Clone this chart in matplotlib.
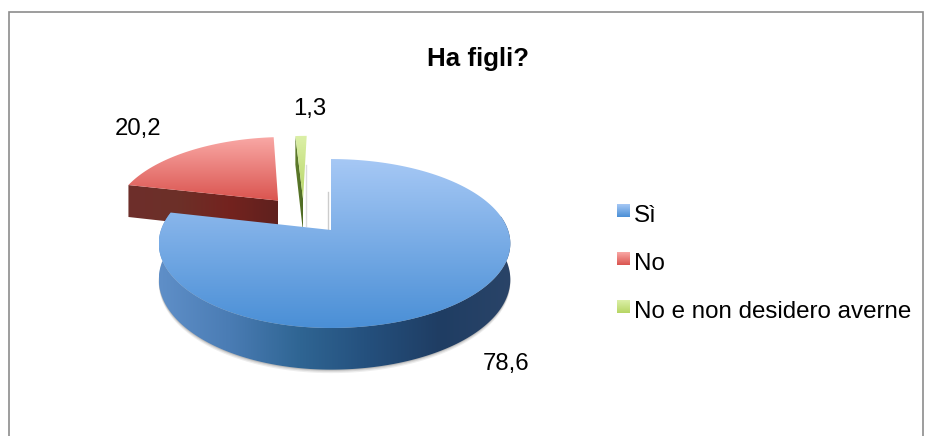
# -*- coding: utf-8 -*-
import numpy as np
import matplotlib
matplotlib.use("Agg")
import matplotlib.pyplot as plt
from matplotlib.patches import Polygon, Rectangle
from matplotlib.colors import LinearSegmentedColormap

plt.rcParams['font.family'] = ['Liberation Sans', 'DejaVu Sans']

title = "Ha figli?"
categories = ["Sì", "No", "No e non desidero averne"]
values = [78.6, 20.2, 1.3]
value_labels = ["78,6", "20,2", "1,3"]

# pie layout, in pixels of the picture
APEX_X, APEX_Y = 331, 230
K_LEFT, K_RIGHT = 170, 177
A_Y, PERSP = 82.3, 0.16
DEPTH = 35
EXPLODE = [(0, 0), (-0.33, 0.379), (-0.175, 0.40)]

top_colors = [("#A6C8F5", "#4A8FD6"), ("#F9A8A5", "#DA544F"), ("#DCF0A8", "#B6D564")]
wall_colors = [["#5F8FC8", "#4A7CB4", "#2F6593", "#244F7C", "#1F3D63", "#2A4468"],
               ["#6E2E2B", "#6C3028", "#74231F", "#5F211E"],
               ["#5F7D2C", "#4F6B24"]]
label_pos = [(506, 364), (138, 129), (310, 109)]
legend_y = [210.5, 258.5, 306.5]


def project(u, v):
    # circle in the pie plane -> picture, with a bit of perspective
    u = np.asarray(u, dtype=float)
    v = np.asarray(v, dtype=float)
    w = 1 + PERSP * v
    k = np.where(u < 0, K_LEFT, K_RIGHT)
    return APEX_X + k * u / w, APEX_Y - A_Y * v / w


def depth_at(v):
    return DEPTH / (1 + PERSP * np.asarray(v, dtype=float))


def gradient(ax, xy, colors, vertical=True, zorder=2):
    # fill polygon xy with a gradient through an image clipped to it
    xy = np.asarray(xy)
    poly = Polygon(xy, closed=True, transform=ax.transData, facecolor="none", edgecolor="none")
    ax.add_patch(poly)
    cmap = LinearSegmentedColormap.from_list("g", colors)
    ramp = np.linspace(0, 1, 256)
    ramp = ramp[:, None] if vertical else ramp[None, :]
    x0, x1, y0, y1 = xy[:, 0].min(), xy[:, 0].max(), xy[:, 1].min(), xy[:, 1].max()
    im = ax.imshow(ramp, cmap=cmap, extent=(x0, x1, y1, y0), aspect="auto", zorder=zorder,
                   interpolation="bilinear")
    im.set_clip_path(poly)


fig = plt.figure(figsize=(9.3, 4.36), dpi=100)
ax = fig.add_axes([0, 0, 1, 1])
ax.axis("off")

# chart frame
ax.add_patch(Rectangle((9, 12), 914, 430, facecolor="white", edgecolor="#8c8c8c", lw=1.2, zorder=0))

total = sum(values)
ends = np.cumsum(values) / total * 2 * np.pi
starts = np.concatenate(([0], ends[:-1]))

# soft shadow under the front of the blue slice
th = np.linspace(np.radians(85), np.radians(275), 300)
sx, sy = project(np.sin(th), np.cos(th))
for grow, alpha in [(3.5, 0.10), (2.2, 0.14), (1.0, 0.22)]:
    ax.fill(sx, sy + depth_at(np.cos(th)) + grow, color="#555555", alpha=alpha, lw=0, zorder=1)

# back to front: red, green, blue
for i in [1, 2, 0]:
    a0, a1 = starts[i], ends[i]
    du, dv = EXPLODE[i]
    t = np.linspace(a0, a1, 200)
    u = np.concatenate(([du], np.sin(t) + du))
    v = np.concatenate(([dv], np.cos(t) + dv))
    x, y = project(u, v)
    top = np.column_stack([x, y])
    z = 3 + (i == 0) * 4 + (i == 2) * 2

    if i == 0:
        # outer wall of the big slice, only the part facing the viewer
        tw = np.linspace(np.radians(80), a1, 300)
        wu, wv = np.sin(tw), np.cos(tw)
        wx, wy = project(wu, wv)
        wall = np.concatenate([np.column_stack([wx, wy]),
                               np.column_stack([wx, wy + depth_at(wv)])[::-1]])
        gradient(ax, wall, wall_colors[i], vertical=False, zorder=z)
    else:
        # cut face of the slice on its left side
        eu, ev = np.sin(a0) + du, np.cos(a0) + dv
        ex, ey = project(eu, ev)
        ax_, ay_ = project(du, dv)
        wall = np.array([[ex, ey], [ax_, ay_],
                         [ax_, ay_ + depth_at(dv)], [ex, ey + depth_at(ev)]])
        gradient(ax, wall, wall_colors[i], vertical=False, zorder=z)

    gradient(ax, top, top_colors[i], vertical=True, zorder=z + 1)

# thin grey shadows beside the notch
ax.plot([328, 328], [192, 230], color="#aaaaaa", lw=1, alpha=0.6, zorder=2)
ax.plot([306, 306], [165, 226], color="#bbbbbb", lw=1, alpha=0.5, zorder=2)

ax.text(478, 59, title, fontsize=18.6, fontweight="bold", ha="center", va="center", color="black", zorder=20)

for lab, (lx, ly) in zip(value_labels, label_pos):
    ax.text(lx, ly, lab, fontsize=17.2, ha="center", va="center", color="black", zorder=20)

# legend
for name, ly, cols in zip(categories, legend_y, top_colors):
    sq = np.array([[617, ly - 6.5], [630, ly - 6.5], [630, ly + 6.5], [617, ly + 6.5]])
    gradient(ax, sq, cols, vertical=True, zorder=10)
    ax.text(634, ly + 11, name, fontsize=17.35, ha="left", va="baseline", color="black", zorder=20)

ax.set_xlim(0, 930)
ax.set_ylim(436, 0)
fig.savefig("out.png", dpi=100)
